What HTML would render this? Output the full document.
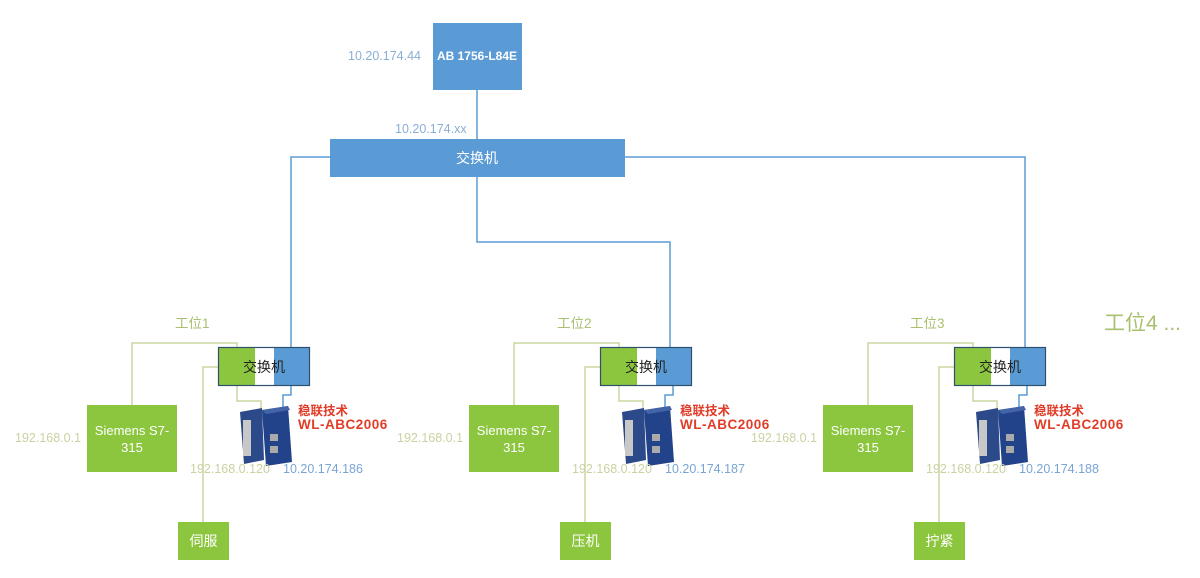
<!DOCTYPE html>
<html><head><meta charset="utf-8"><style>
html,body{margin:0;padding:0;background:#fff;}
svg{display:block;}
text{font-family:"Liberation Sans","Noto Sans CJK SC",sans-serif;}
</style></head><body>
<svg width="1200" height="578" viewBox="0 0 1200 578" xmlns="http://www.w3.org/2000/svg">
<defs>
<g id="st">
  <g fill="none" stroke="#c9d7a2" stroke-width="1.5">
    <polyline points="237,347 237,343 132,343 132,405"/>
    <polyline points="218,367 203,367 203,522"/>
    <polyline points="237,386 237,401 261,401 261,410"/>
  </g>
  <polyline points="291,386 291,395 283,395 283,410" fill="none" stroke="#5b9bd5" stroke-width="1.5"/>
  <rect x="218" y="347" width="37" height="39" fill="#8cc63f"/>
  <rect x="255" y="347" width="19" height="39" fill="#fff"/>
  <rect x="274" y="347" width="36" height="39" fill="#5b9bd5"/>
  <rect x="218.5" y="347.5" width="91" height="38" fill="none" stroke="#2f4f6f" stroke-width="1.2"/>
  <text x="264" y="372" font-size="14" text-anchor="middle" fill="#222">交换机</text>
  <rect x="87" y="405" width="90" height="67" fill="#8cc63f"/>
  <text x="132" y="435" font-size="13" text-anchor="middle" fill="#fff">Siemens S7-</text>
  <text x="132" y="452" font-size="13" text-anchor="middle" fill="#fff">315</text>
  <rect x="178" y="522" width="51" height="38" fill="#8cc63f"/>
  <polygon points="240,412 262,408 264,460 244,464" fill="#2c4a8a"/>
  <rect x="243" y="420" width="8" height="36" fill="#c8c8c8"/>
  <polygon points="262,410 288,406 292,462 266,466" fill="#22428a"/>
  <polygon points="262,410 288,406 290,410 266,414" fill="#4464a8"/>
  <rect x="270" y="434" width="8" height="7" fill="#aaa"/>
  <rect x="270" y="446" width="8" height="7" fill="#aaa"/>
  <text x="298" y="415" font-size="12.5" font-weight="bold" fill="#e03c28">稳联技术</text>
  <text x="298" y="429" font-size="13.5" font-weight="bold" fill="#e03c28" letter-spacing="0.5">WL-ABC2006</text>
  <text x="15" y="442" font-size="12.5" fill="#c9d2a0">192.168.0.1</text>
  <text x="190" y="473" font-size="12.5" fill="#c9d2a0">192.168.0.120</text>
</g>
</defs>
<g fill="none" stroke="#5b9bd5" stroke-width="1.5">
  <line x1="477" y1="90" x2="477" y2="139"/>
  <polyline points="330,157 291,157 291,347"/>
  <polyline points="477,177 477,242 670,242 670,347"/>
  <polyline points="625,157 1025,157 1025,347"/>
</g>
<rect x="433" y="23" width="89" height="67" fill="#5b9bd5"/>
<text x="477" y="60" font-size="12" font-weight="bold" text-anchor="middle" fill="#fff">AB 1756-L84E</text>
<text x="348" y="60" font-size="12.5" fill="#8aaed6">10.20.174.44</text>
<text x="395" y="133" font-size="12.5" fill="#8aaed6">10.20.174.xx</text>
<rect x="330" y="139" width="295" height="38" fill="#5b9bd5"/>
<text x="477" y="163" font-size="14" text-anchor="middle" fill="#fff">交换机</text>

<use href="#st"/>
<use href="#st" transform="translate(382,0)"/>
<use href="#st" transform="translate(736,0)"/>

<text x="175" y="328" font-size="13.5" fill="#a8c070">工位1</text>
<text x="557" y="328" font-size="13.5" fill="#a8c070">工位2</text>
<text x="910" y="328" font-size="13.5" fill="#a8c070">工位3</text>
<text x="1104" y="330" font-size="21" fill="#a8c070">工位4 ...</text>

<text x="283" y="473" font-size="12.5" fill="#7aa4d6">10.20.174.186</text>
<text x="665" y="473" font-size="12.5" fill="#7aa4d6">10.20.174.187</text>
<text x="1019" y="473" font-size="12.5" fill="#7aa4d6">10.20.174.188</text>

<text x="203.5" y="546" font-size="14" text-anchor="middle" fill="#fff">伺服</text>
<text x="585.5" y="546" font-size="14" text-anchor="middle" fill="#fff">压机</text>
<text x="939.5" y="546" font-size="14" text-anchor="middle" fill="#fff">拧紧</text>
</svg>
</body></html>
